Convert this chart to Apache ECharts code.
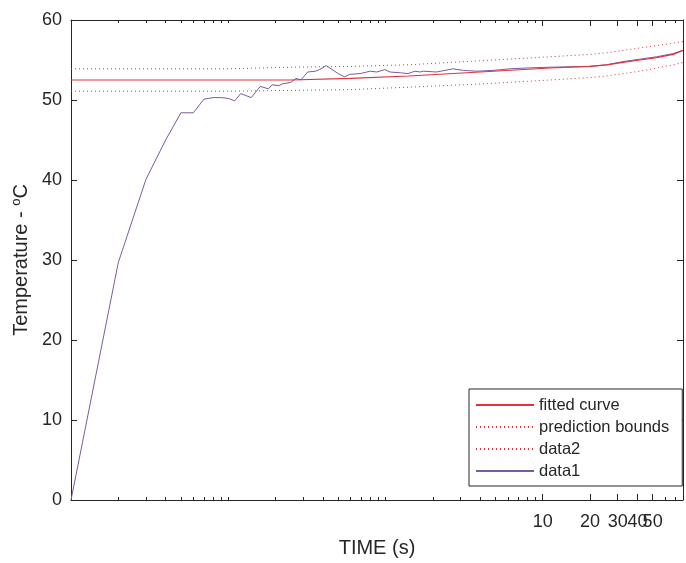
<!DOCTYPE html>
<html>
<head>
<meta charset="utf-8">
<script src="https://cdn.jsdelivr.net/npm/echarts@6/dist/echarts.min.js"></script>
<style>
html, body { margin: 0; padding: 0; background: #fff; }
#chart { width: 686px; height: 563px; }
</style>
</head>
<body>
<div id="chart"></div>
<script>
// measured data (time in s, temperature in degC)
var data1_time = [0.01, 0.02, 0.03, 0.04, 0.05, 0.06, 0.07, 0.08, 0.09, 0.10, 0.11, 0.12, 0.14, 0.16, 0.18, 0.19, 0.21, 0.22, 0.25, 0.27, 0.29, 0.32, 0.36, 0.38, 0.42, 0.45, 0.51, 0.55, 0.59, 0.69, 0.80, 0.88, 0.99, 1.07, 1.24, 1.39, 1.54, 1.66, 1.74, 2.11, 2.69, 3.12, 3.80, 4.84, 6.18, 7.89, 11.1, 19.9, 25.5, 32.4, 41.4, 52.9, 67.5, 78];
var data1_temp = [0, 29.7, 40.1, 45.0, 48.4, 48.4, 50.1, 50.3, 50.3, 50.2, 49.9, 50.8, 50.3, 51.7, 51.4, 51.9, 51.8, 52.0, 52.2, 52.7, 52.5, 53.5, 53.6, 53.8, 54.3, 53.9, 53.2, 52.9, 53.2, 53.3, 53.6, 53.5, 53.8, 53.5, 53.4, 53.3, 53.6, 53.5, 53.6, 53.5, 53.9, 53.7, 53.6, 53.7, 53.9, 54.0, 54.1, 54.2, 54.4, 54.8, 55.1, 55.4, 55.8, 56.2];

// fitted curve and prediction bounds
var fit_time  = [0.01, 0.1, 0.25, 0.6, 1.4, 4, 11.1, 19.9, 25.5, 32.4, 41.4, 52.9, 67.5, 78];
var fit_temp  = [52.5, 52.5, 52.5, 52.7, 53.0, 53.5, 54.0, 54.2, 54.4, 54.7, 55.0, 55.3, 55.7, 56.2];
var bound_up  = [53.9, 53.9, 54.1, 54.2, 54.4, 54.9, 55.4, 55.7, 55.9, 56.2, 56.5, 56.8, 57.1, 57.3];
var bound_low = [51.1, 51.1, 51.2, 51.3, 51.6, 52.0, 52.5, 52.8, 53.0, 53.3, 53.6, 54.0, 54.4, 54.7];

// axis ticks (neighbouring labels touch, so they are split over two overlaid axes)
var x_major_ticks = [10, 20, 30, 40, 50];
var x_labels_a = [10, 30, 50];
var x_labels_b = [20, 40];
var x_minor_ticks = [0.02, 0.03, 0.04, 0.05, 0.06, 0.07, 0.08, 0.09,
                     0.1, 0.2, 0.3, 0.4, 0.5, 0.6, 0.7, 0.8, 0.9,
                     1, 2, 3, 4, 5, 6, 7, 8, 9, 60, 70];

var axis_color = '#262626';
var font = '"Liberation Sans", Arial, sans-serif';

function pairs(xs, ys) {
	return xs.map(function (x, i) { return [x, ys[i]]; });
}

function x_axis(position, ticks, tick_len, show_line, labels) {
	return {
		type: 'log',
		logBase: 10,
		min: 0.01,
		max: 78,
		position: position,
		splitLine: { show: false },
		axisLine: { show: show_line, onZero: false, lineStyle: { color: axis_color, width: 1 } },
		axisTick: { show: true, inside: true, length: tick_len, customValues: ticks, lineStyle: { color: axis_color } },
		axisLabel: {
			show: !!labels,
			customValues: labels || x_major_ticks,
			hideOverlap: false,
			margin: 13,
			color: axis_color,
			fontFamily: font,
			fontSize: 18,
			formatter: function (v) { return String(Math.round(v)); }
		}
	};
}

var chart = echarts.init(document.getElementById('chart'));

var bottom_axis = x_axis('bottom', x_major_ticks, 6, true, x_labels_a);
bottom_axis.name = 'TIME (s)';
bottom_axis.nameLocation = 'middle';
bottom_axis.nameGap = 38;
bottom_axis.nameTextStyle = { color: axis_color, fontFamily: font, fontSize: 20 };

var options = {
	backgroundColor: '#fff',
	animation: false,
	grid: { left: 71, right: 3, top: 20, bottom: 60, containLabel: false },
	xAxis: [
		bottom_axis,
		x_axis('bottom', x_minor_ticks, 3, false, x_labels_b),
		x_axis('top', x_major_ticks, 6, true, null),
		x_axis('top', x_minor_ticks, 3, false, null)
	],
	yAxis: [
		{
			type: 'value',
			min: 0,
			max: 60,
			interval: 10,
			position: 'left',
			name: 'Temperature - {sup|o}C',
			nameLocation: 'middle',
			nameGap: 36,
			nameTextStyle: {
				color: axis_color, fontFamily: font, fontSize: 20,
				rich: { sup: { fontSize: 13, color: axis_color, fontFamily: font, padding: [0, 0, 10, 0] } }
			},
			splitLine: { show: false },
			axisLine: { show: true, lineStyle: { color: axis_color } },
			axisTick: { inside: true, length: 6, lineStyle: { color: axis_color } },
			axisLabel: { margin: 9, color: axis_color, fontFamily: font, fontSize: 18 }
		},
		{
			type: 'value',
			min: 0,
			max: 60,
			interval: 10,
			position: 'right',
			splitLine: { show: false },
			axisLine: { show: true, onZero: false, lineStyle: { color: axis_color } },
			axisTick: { inside: true, length: 6, lineStyle: { color: axis_color } },
			axisLabel: { show: false }
		}
	],
	legend: {
		orient: 'vertical',
		left: 469,
		top: 389,
		data: ['fitted curve', 'prediction bounds', 'data2', 'data1'],
		backgroundColor: '#fff',
		borderColor: axis_color,
		borderWidth: 1,
		borderRadius: 0,
		padding: [7, 13, 6, 6],
		itemWidth: 58,
		itemHeight: 18,
		itemGap: 4,
		itemStyle: { opacity: 0 },
		textStyle: { color: axis_color, fontFamily: font, fontSize: 16.5, lineHeight: 18 }
	},
	series: [
		{
			name: 'data1',
			type: 'line',
			symbol: 'none',
			lineStyle: { color: '#7b5aa0', width: 1 },
			itemStyle: { color: '#7b5aa0' },
			data: pairs(data1_time, data1_temp)
		},
		{
			name: 'data2',
			type: 'line',
			symbol: 'none',
			lineStyle: { color: '#d8323c', width: 1, type: [1, 3] },
			itemStyle: { color: '#d8323c' },
			data: pairs(fit_time, bound_low)
		},
		{
			name: 'prediction bounds',
			type: 'line',
			symbol: 'none',
			lineStyle: { color: '#d8323c', width: 1, type: [1, 3] },
			itemStyle: { color: '#d8323c' },
			data: pairs(fit_time, bound_up)
		},
		{
			name: 'fitted curve',
			type: 'line',
			symbol: 'none',
			lineStyle: { color: '#e0323c', width: 1.2 },
			itemStyle: { color: '#e0323c' },
			data: pairs(fit_time, fit_temp)
		}
	]
};

chart.setOption(options);
</script>
</body>
</html>
